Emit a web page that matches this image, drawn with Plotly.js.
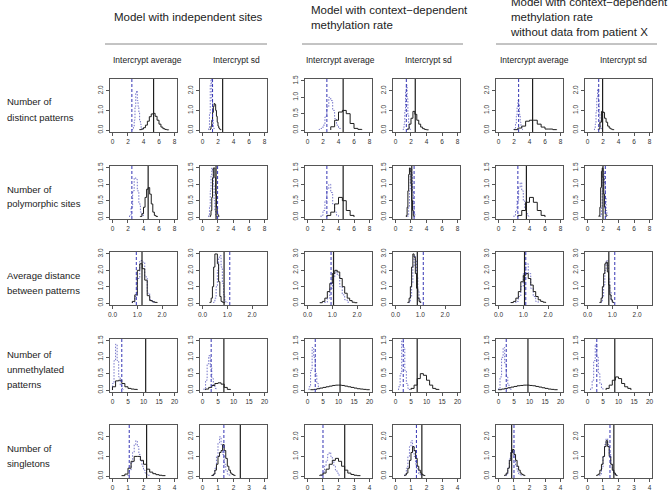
<!DOCTYPE html>
<html><head><meta charset="utf-8">
<script src="https://cdn.plot.ly/plotly-3.0.1.min.js"></script>
<style>html,body{margin:0;padding:0;background:#fff}</style>
</head><body><div id="chart" style="width:669px;height:491px"></div>
<script>
// ---------- texts ----------
const groupTitles = [
  "Model with independent sites",
  "Model with context\u2212dependent<br>methylation rate",
  "Model with context\u2212dependent<br>methylation rate<br>without data from patient X"
];
const colTitles = ["Intercrypt average", "Intercrypt sd"];
const rowLabels = [
  ["Number of", "distinct patterns"],
  ["Number of", "polymorphic sites"],
  ["Average distance", "between patterns"],
  ["Number of", "unmethylated", "patterns"],
  ["Number of", "singletons"]
];

// ---------- data: row 1, number of distinct patterns ----------
const distinctBlackStart = [3.5, 1.0, 3.0, 1.5, 2.0, 1.4];
const distinctBlackWidth = [0.25, 0.1, 0.5, 0.25, 0.5, 0.2];
const distinctBlack = [
  [0.02,0.05,0.12,0.25,0.45,0.68,0.82,0.85,0.7,0.5,0.3,0.15,0.07,0.03,0.01],
  [0.05,0.2,0.5,0.9,1.2,1.35,1.3,1.0,0.7,0.4,0.2,0.1,0.05,0.02],
  [0.1,0.3,0.55,0.6,0.5,0.2,0.05,0.02],
  [0.05,0.3,0.6,0.95,0.8,0.5,0.3,0.15,0.07,0.03,0.01],
  [0.02,0.1,0.2,0.45,0.5,0.5,0.3,0.15,0.05,0.05,0.02],
  [0.05,0.4,0.95,0.9,0.6,0.4,0.2,0.1,0.05,0.02]
];
const distinctBlueStart = [2.5, 0.8, 1.5, 1.0, 2.0, 0.9];
const distinctBlueWidth = [0.1, 0.1, 0.25, 0.1, 0.1, 0.1];
const distinctBlue = [
  [0.02,0.05,0.2,0.5,1.2,1.9,2.0,1.5,1.2,0.9,0.5,0.3,0.1,0.05],
  [0.1,0.8,2.3,2.6,1.5,0.5,0.1],
  [0.02,0.05,0.15,0.4,0.7,1.0,0.9,0.6,0.35,0.15,0.05],
  [0.05,0.3,1.0,2.0,2.3,1.6,0.8,0.3,0.1],
  [0.05,0.1,0.3,0.7,1.2,1.5,1.3,0.8,0.4,0.15,0.05,0.02],
  [0.05,0.3,0.9,1.7,2.1,1.5,0.8,0.3,0.1,0.03]
];
const distinctObserved = [5.3, 2.6, 4.6, 2.55, 4.4, 1.95];
const distinctBlueLine = [2.5, 1.3, 2.5, 1.4, 2.6, 1.45];

// ---------- data: row 2, number of polymorphic sites ----------
const polyBlackStart = [3.6, 1.0, 2.5, 1.4, 2.5, 1.5];
const polyBlackWidth = [0.2, 0.1, 0.5, 0.1, 0.5, 0.1];
const polyBlack = [
  [0.02,0.1,0.3,0.6,0.85,0.9,0.7,0.4,0.15,0.05,0.02],
  [0.05,0.2,0.6,1.2,1.5,1.5,1.2,0.7,0.3,0.1,0.05],
  [0.05,0.15,0.4,0.6,0.5,0.2,0.05],
  [0.05,0.3,0.8,1.3,1.5,1.4,1.0,0.5,0.2,0.05],
  [0.05,0.2,0.45,0.6,0.45,0.2,0.05],
  [0.05,0.3,0.9,1.4,1.5,1.2,0.7,0.3,0.1]
];
const polyBlueStart = [2.2, 0.8, 1.75, 1.6, 2.0, 1.7];
const polyBlueWidth = [0.2, 0.1, 0.25, 0.1, 0.2, 0.1];
const polyBlue = [
  [0.05,0.3,0.8,1.2,1.15,0.8,0.4,0.15,0.05],
  [0.05,0.3,0.8,1.3,1.5,1.4,1.0,0.5,0.2,0.05],
  [0.05,0.2,0.5,0.85,1.0,0.75,0.4,0.15,0.05],
  [0.05,0.3,0.8,1.3,1.5,1.3,0.8,0.4,0.1],
  [0.05,0.2,0.5,0.9,1.05,0.8,0.5,0.25,0.1,0.03],
  [0.05,0.3,0.8,1.3,1.4,1.0,0.6,0.2,0.05]
];
const polyObserved = [4.6, 1.75, 4.6, 2.1, 3.6, 2.0];
const polyBlueLine = [2.5, 1.95, 2.5, 2.4, 2.5, 2.3];

// ---------- data: row 3, average distance between patterns ----------
const distBlackStart = [0.8, 0.3, 0.5, 0.5, 0.5, 0.5];
const distBlackWidth = [0.1, 0.05, 0.1, 0.05, 0.1, 0.05];
const distBlack = [
  [0.1,0.5,2.0,2.4,2.1,1.4,0.45,0.15,0.08,0.04],
  [0.05,0.3,1.0,2.2,3.0,3.0,2.4,1.3,0.4,0.1,0.05,0.02],
  [0.02,0.1,0.3,0.7,1.2,1.8,2.0,1.9,1.5,1.0,0.6,0.3,0.15,0.05,0.02],
  [0.05,0.3,1.0,2.2,3.0,2.8,1.8,0.9,0.3,0.1],
  [0.03,0.1,0.3,0.7,1.3,1.7,1.8,1.5,1.1,0.7,0.4,0.2,0.1,0.05],
  [0.05,0.3,1.0,1.8,2.4,2.5,1.9,1.1,0.5,0.2,0.05]
];
const distBlueStart = [0.8, 0.45, 0.7, 0.55, 0.7, 0.55];
const distBlueWidth = [0.1, 0.05, 0.1, 0.05, 0.1, 0.05];
const distBlue = [
  [0.05,0.4,1.5,2.6,2.5,1.6,0.6,0.2,0.05],
  [0.05,0.3,1.0,2.0,2.8,2.9,2.2,1.2,0.5,0.1,0.05],
  [0.05,0.3,0.9,1.6,1.9,1.7,1.0,0.5,0.2,0.05],
  [0.05,0.4,1.2,2.2,2.9,2.6,1.6,0.7,0.2,0.05],
  [0.1,0.4,1.0,1.8,2.4,1.8,0.9,0.4,0.1],
  [0.05,0.4,1.1,2.0,2.6,2.3,1.5,0.7,0.2,0.05]
];
const distObserved = [1.19, 0.87, 1.05, 0.88, 1.05, 0.86];
const distBlueLine = [0.96, 1.1, 0.95, 1.12, 1.1, 1.1];

// ---------- data: row 4, number of unmethylated patterns ----------
const unmBlackStart = [0, 1, 1, 5, 0, 6];
const unmBlackWidth = [1, 1, 1, 1, 1, 1];
const unmBlack = [
  [0.1,0.28,0.3,0.2,0.1,0.05,0.03,0.02],
  [0.03,0.08,0.14,0.2,0.22,0.18,0.08,0.02],
  [0.01,0.02,0.04,0.06,0.08,0.1,0.12,0.14,0.15,0.15,0.14,0.12,0.1,0.08,0.06,0.04,0.03,0.02,0.01],
  [0.05,0.15,0.35,0.5,0.45,0.3,0.15,0.05,0.02],
  [0.01,0.03,0.05,0.07,0.09,0.11,0.13,0.14,0.15,0.15,0.14,0.13,0.11,0.09,0.07,0.05,0.03,0.02,0.01],
  [0.05,0.15,0.3,0.4,0.35,0.2,0.1,0.05]
];
const unmBlueStart = [0, 0.5, 0.5, 1, 0, 1];
const unmBlueWidth = [0.5, 0.5, 0.5, 0.5, 0.5, 0.5];
const unmBlue = [
  [0.2,0.9,1.4,0.9,0.4,0.15,0.05],
  [0.05,0.3,0.8,1.05,0.7,0.35,0.15,0.05],
  [0.1,0.6,1.3,1.0,0.5,0.2,0.05],
  [0.1,0.5,1.5,1.3,0.6,0.2,0.05],
  [0.05,0.4,1.0,1.3,0.8,0.4,0.15,0.05],
  [0.05,0.3,0.9,1.4,1.0,0.5,0.2,0.05]
];
const unmObserved = [10.7, 6.9, 10.5, 7.0, 9.5, 8.8];
const unmBlueLine = [3.0, 2.8, 2.5, 2.5, 2.5, 3.0];

// ---------- data: row 5, number of singletons ----------
const singBlackStart = [0.6, 0.6, 0.8, 0.6, 0.4, 0.6];
const singBlackWidth = [0.2, 0.1, 0.2, 0.1, 0.1, 0.1];
const singBlack = [
  [0.02,0.1,0.4,0.75,1.0,1.0,0.8,0.6,0.35,0.2,0.12,0.07,0.04,0.02],
  [0.03,0.1,0.3,0.6,1.0,1.2,1.3,1.6,1.3,0.9,0.5,0.3,0.15,0.08,0.04],
  [0.05,0.15,0.35,0.6,0.8,0.9,0.75,0.5,0.3,0.15,0.08,0.04,0.02],
  [0.05,0.15,0.4,0.8,1.2,1.5,1.3,0.9,0.5,0.3,0.15,0.07,0.03],
  [0.05,0.15,0.4,0.8,1.2,1.35,1.1,0.8,0.5,0.3,0.15,0.08,0.04],
  [0.05,0.1,0.3,0.6,1.0,1.5,1.8,1.5,1.0,0.6,0.3,0.15,0.05]
];
const singBlueStart = [1.0, 0.7, 0.9, 0.6, 0.5, 0.8];
const singBlueWidth = [0.1, 0.1, 0.1, 0.1, 0.1, 0.1];
const singBlue = [
  [0.05,0.3,0.7,1.2,1.6,1.8,1.5,1.1,0.8,0.5,0.3,0.15,0.08,0.04],
  [0.1,0.4,1.0,1.7,2.0,1.6,1.1,0.6,0.3,0.1,0.05],
  [0.05,0.2,0.5,0.8,1.1,1.2,1.0,0.8,0.5,0.3,0.15,0.05],
  [0.1,0.4,1.0,1.5,1.8,1.5,1.0,0.6,0.3,0.1,0.05],
  [0.1,0.4,0.9,1.3,1.2,0.9,0.5,0.25,0.1,0.05],
  [0.1,0.4,1.0,1.6,1.9,1.6,1.1,0.6,0.3,0.1,0.05]
];
const singObserved = [2.2, 2.44, 2.4, 1.7, 0.85, 1.7];
const singBlueLine = [1.08, 1.38, 1.0, 1.35, 1.0, 1.45];

// ---------- axis limits per row ----------
const rowXMax = [8, 8, 2.5, 20, 4];
const rowXTick = [2, 2, 1, 5, 1];
const rowXFormat = ["d", "d", ".1f", "d", "d"];
const panelYMax = [
  [2.5, 2.5, 1.5, 2.5, 2.5, 2.5],
  [1.5, 1.5, 1.5, 1.5, 1.5, 1.5],
  [3, 3, 3, 3, 3, 3],
  [1.5, 1.5, 1.5, 1.5, 1.5, 1.5],
  [2.5, 2.5, 2.5, 2.5, 2.5, 2.5]
];

// ---------- assembling ----------
const rows = [
  [distinctBlackStart, distinctBlackWidth, distinctBlack, distinctBlueStart, distinctBlueWidth, distinctBlue, distinctObserved, distinctBlueLine],
  [polyBlackStart, polyBlackWidth, polyBlack, polyBlueStart, polyBlueWidth, polyBlue, polyObserved, polyBlueLine],
  [distBlackStart, distBlackWidth, distBlack, distBlueStart, distBlueWidth, distBlue, distObserved, distBlueLine],
  [unmBlackStart, unmBlackWidth, unmBlack, unmBlueStart, unmBlueWidth, unmBlue, unmObserved, unmBlueLine],
  [singBlackStart, singBlackWidth, singBlack, singBlueStart, singBlueWidth, singBlue, singObserved, singBlueLine]
];

const W = 669, H = 491;
const colLeft = [110, 200, 305, 393, 496, 585];
const colTitleX = [147, 236, 340, 428, 534, 623];
const boxW = 67;
const rowTop = [79, 166, 252, 339, 425];
const boxH = 53;

const BLACK = "#1e1e1e", BLUE = "#3434b4", LBLUE = "#7474c8", AX = "#555555";
const FONT = "Liberation Sans, Arial, sans-serif";

function stepXY(start, width, counts) {
  const x = [start], y = [0];
  counts.forEach((c, i) => { x.push(start + i * width); y.push(c); });
  x.push(start + counts.length * width); y.push(0);
  return {x, y};
}

const traces = [], shapes = [], annotations = [];
const layout = {
  width: W, height: H, margin: {l: 0, r: 0, t: 0, b: 0},
  paper_bgcolor: "#fff", plot_bgcolor: "#fff", showlegend: false,
  font: {family: FONT, color: "#222"}
};

for (let r = 0; r < 5; r++) {
  const [bS, bW, bC, uS, uW, uC, obs, bl] = rows[r];
  for (let c = 0; c < 6; c++) {
    const n = r * 6 + c + 1;
    const sx = n === 1 ? "" : String(n);
    const xa = "x" + sx, ya = "y" + sx;
    const xmax = rowXMax[r], ymax = panelYMax[r][c];
    layout["xaxis" + sx] = {
      domain: [colLeft[c] / W, (colLeft[c] + boxW) / W],
      anchor: ya, range: [-0.04 * xmax, 1.04 * xmax],
      tick0: 0, dtick: rowXTick[r], tickformat: rowXFormat[r],
      showgrid: false, zeroline: false, showline: true, mirror: true,
      linecolor: AX, linewidth: 1, ticks: "outside", ticklen: 3, tickcolor: AX, tickwidth: 1,
      tickfont: {size: 6.5, color: "#333", family: FONT}, fixedrange: true
    };
    layout["yaxis" + sx] = {
      domain: [1 - (rowTop[r] + boxH) / H, 1 - rowTop[r] / H],
      anchor: xa, range: [-0.04 * ymax, 1.04 * ymax],
      tick0: 0, dtick: ymax <= 1.5 ? 0.5 : 1, tickformat: ".1f", tickangle: -90,
      showgrid: false, zeroline: false, showline: true, mirror: true,
      linecolor: AX, linewidth: 1, ticks: "outside", ticklen: 3, tickcolor: AX, tickwidth: 1,
      tickfont: {size: 6.5, color: "#333", family: FONT}, fixedrange: true
    };
    const u = stepXY(uS[c], uW[c], uC[c]);
    traces.push({type: "scatter", mode: "lines", x: u.x, y: u.y, xaxis: xa, yaxis: ya,
      line: {shape: "hv", color: LBLUE, width: 1, dash: "1.5px,1.5px"}, hoverinfo: "skip"});
    const b = stepXY(bS[c], bW[c], bC[c]);
    traces.push({type: "scatter", mode: "lines", x: b.x, y: b.y, xaxis: xa, yaxis: ya,
      line: {shape: "hv", color: BLACK, width: 1}, hoverinfo: "skip"});
    shapes.push({type: "line", xref: xa, yref: ya + " domain", x0: obs[c], x1: obs[c], y0: 0, y1: 1,
      line: {color: BLACK, width: 1.2}});
    shapes.push({type: "line", xref: xa, yref: ya + " domain", x0: bl[c], x1: bl[c], y0: 0, y1: 1,
      line: {color: BLUE, width: 1, dash: "3px,2px"}});
  }
}

// header texts
const groupX = [112, 309, 508];
const lineX = [[105, 267], [302, 463], [496, 657]];
groupTitles.forEach((t, i) => {
  annotations.push({text: t, xref: "paper", yref: "paper", x: groupX[i] / W, y: 1 - 17.5 / H,
    xanchor: "left", yanchor: "middle", align: "left", showarrow: false,
    font: {size: 11.5, color: "#222", family: FONT}});
  shapes.push({type: "line", xref: "paper", yref: "paper", x0: lineX[i][0] / W, x1: lineX[i][1] / W,
    y0: 1 - 44 / H, y1: 1 - 44 / H, line: {color: "#888", width: 1}});
});
colTitleX.forEach((x, c) => {
  annotations.push({text: colTitles[c % 2], xref: "paper", yref: "paper", x: x / W, y: 1 - 60 / H,
    xanchor: "center", yanchor: "middle", showarrow: false,
    font: {size: 8.5, color: "#222", family: FONT}});
});
rowLabels.forEach((lines, r) => {
  const mid = rowTop[r] + boxH / 2 + 4;
  lines.forEach((t, k) => {
    const yc = mid + (k - (lines.length - 1) / 2) * 15;
    annotations.push({text: t, xref: "paper", yref: "paper", x: 5 / W, y: 1 - yc / H,
      xanchor: "left", yanchor: "middle", align: "left", showarrow: false,
      font: {size: 9.5, color: "#222", family: FONT}});
  });
});

layout.shapes = shapes;
layout.annotations = annotations;
Plotly.newPlot("chart", traces, layout, {staticPlot: true, displayModeBar: false});
</script></body></html>
